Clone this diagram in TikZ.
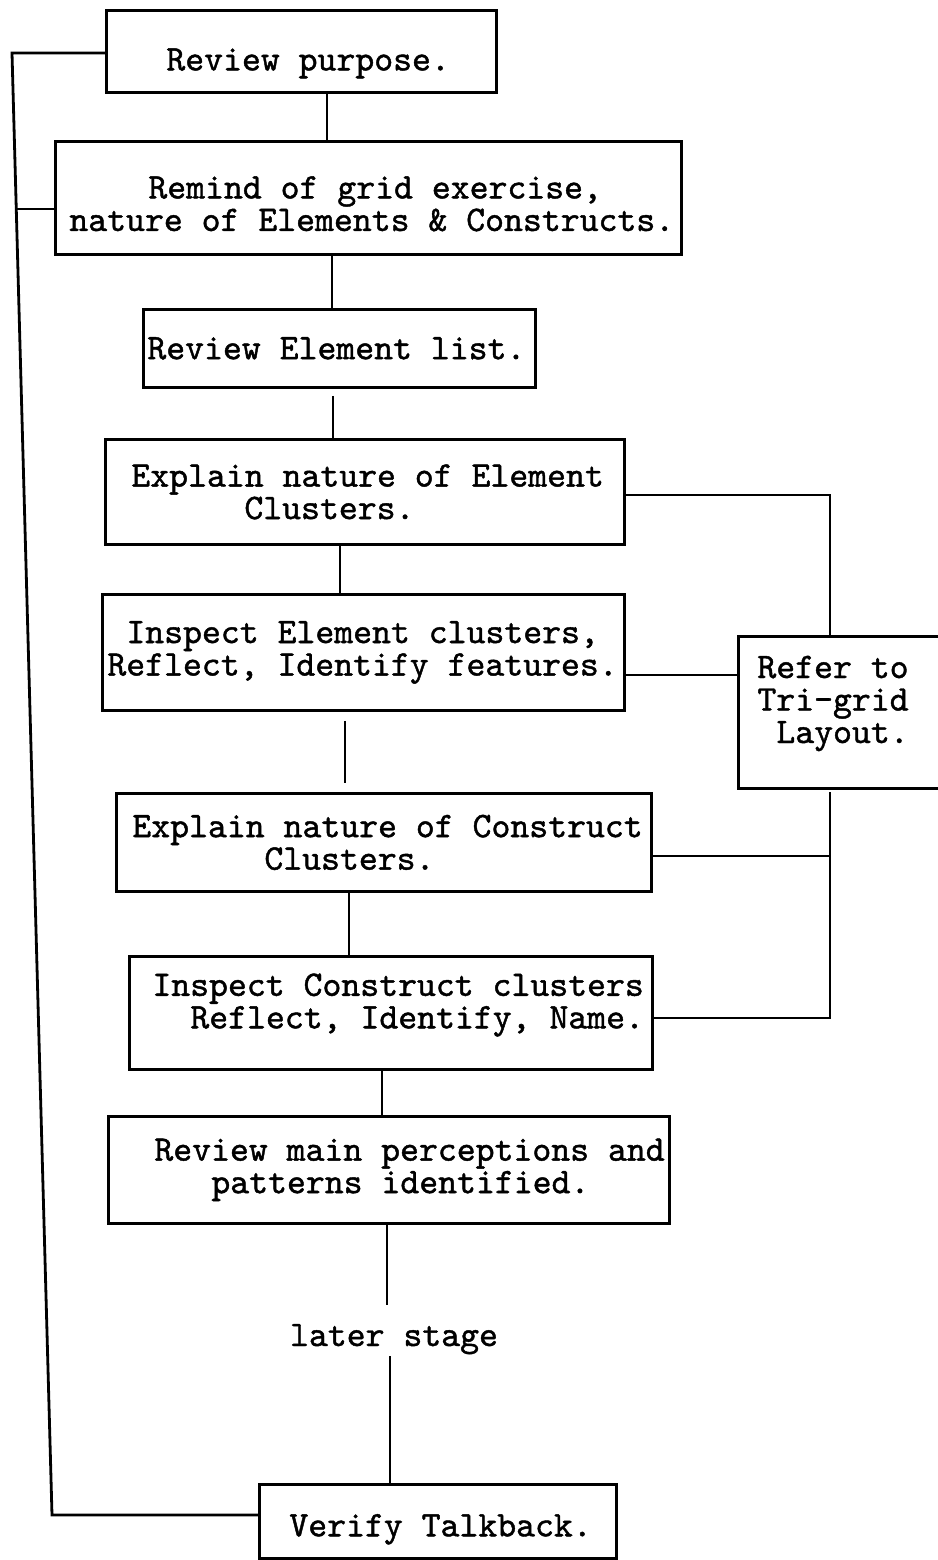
\documentclass[tikz,border=0pt]{standalone}
\usepackage{fontspec}
\usetikzlibrary{calc}
% typewriter face, slightly heavier than the default mono
\newfontfamily\typer{lmmono10-regular.otf}[FakeBold=1.2]
% one typed line of a box: total width, left indent, text
\newcommand\boxline[3]{\makebox[#1pt][l]{\hspace*{#2pt}#3}}
% invisible struts that push a text block down (top) or up (bottom)
\newcommand\padtop[1]{\rule{0pt}{#1pt}}
\newcommand\padbot[1]{\rule[-#1pt]{0pt}{#1pt}}
\tikzset{
  typed/.style={font=\typer\fontsize{36}{32.5}\selectfont},
  flowbox/.style={typed, draw, rectangle, inner sep=0pt, anchor=north west, align=left},
}
\begin{document}
\begin{tikzpicture}[x=1pt, y=-1pt, line width=2.8pt]
\useasboundingbox (0,0) rectangle (937,1560);
\fill[white] (0,0) rectangle (937,1560);

% main column of steps
\node[flowbox, minimum height=82pt] (P) at (105,9)
  {\boxline{390}{60}{\padtop{46}Review purpose.}};
\node[flowbox, minimum height=113pt] (R) at (54,140)
  {\boxline{626}{93}{\padtop{34}Remind of grid exercise,}\\
   \boxline{626}{14}{nature of Elements \& Constructs.}};
\node[flowbox, minimum height=78pt] (L) at (142,308)
  {\boxline{392}{4}{Review Element list.}};
\node[flowbox, minimum height=105pt] (EE) at (104,438)
  {\boxline{519}{26}{Explain nature of Element}\\
   \boxline{519}{139}{Clusters.}};
\node[flowbox, minimum height=116pt] (IE) at (101,593)
  {\boxline{522}{24}{Inspect Element clusters,}\\
   \boxline{522}{5}{Reflect, Identify features.}};
\node[flowbox, minimum height=152pt] (T) at (737,635)
  {\boxline{203}{19}{Refer to}\\
   \boxline{203}{19}{Tri-grid}\\
   \boxline{203}{38}{Layout.\padbot{26}}};
\node[flowbox, minimum height=98pt] (EC) at (115,792)
  {\boxline{535}{16}{Explain nature of Construct}\\
   \boxline{535}{148}{Clusters.}};
\node[flowbox, minimum height=113pt] (IC) at (128,955)
  {\boxline{523}{23}{Inspect Construct clusters}\\
   \boxline{523}{61}{Reflect, Identify, Name.\padbot{24}}};
\node[flowbox, minimum height=107pt] (RM) at (107,1115)
  {\boxline{561}{46}{Review main perceptions and}\\
   \boxline{561}{103}{patterns identified.}};
\node[typed, inner sep=0pt, text height=22pt, text depth=8pt] (LS) at (394,1339) {later stage};
\node[flowbox, minimum height=74pt] (V) at (258,1483)
  {\boxline{357}{30}{\padtop{38}Verify Talkback.}};

% connector positions
\coordinate (a1) at (327,0);
\coordinate (a2) at (332,0);
\coordinate (a3) at (333,0);
\coordinate (a4) at (340,0);
\coordinate (a5) at (345,0);
\coordinate (a6) at (349,0);
\coordinate (a7) at (382,0);
\coordinate (a8) at (387,0);
\coordinate (a9) at (390,0);

% vertical links down the column
\draw (P.south -| a1) -- (R.north -| a1);
\draw (R.south -| a2) -- (L.north -| a2);
\draw[shorten <=7pt] (L.south -| a3) -- (EE.north -| a3);
\draw (EE.south -| a4) -- (IE.north -| a4);
\draw[shorten <=9pt, shorten >=9pt] (IE.south -| a5) -- (EC.north -| a5);
\draw (EC.south -| a6) -- (IC.north -| a6);
\draw (IC.south -| a7) -- (RM.north -| a7);
\draw[shorten >=18pt] (RM.south -| a8) -- (LS.north -| a8);
\draw[shorten <=1pt] (LS.south -| a9) -- (V.north -| a9);

% return loop on the left
\coordinate (lTop) at (12,53);
\coordinate (lBot) at (52,1515);
\coordinate (jR) at (16.3,209);
\draw (P.west |- lTop) -- (lTop) -- (lBot) -- (V.west |- lBot);
\draw (R.west |- jR) -- (jR);

% links to the tri-grid reference on the right
\coordinate (jEE) at (830,495);
\coordinate (jIE) at (700,675);
\coordinate (jT) at (830,792);
\coordinate (jEC) at (830,856);
\coordinate (jIC) at (830,1018);
\draw (EE.east |- jEE) -- (jEE) -- (T.north -| jEE);
\draw (IE.east |- jIE) -- (T.west |- jIE);
\draw (jT) -- (jIC) -- (IC.east |- jIC);
\draw (EC.east |- jEC) -- (jEC);
\end{tikzpicture}
\end{document}
